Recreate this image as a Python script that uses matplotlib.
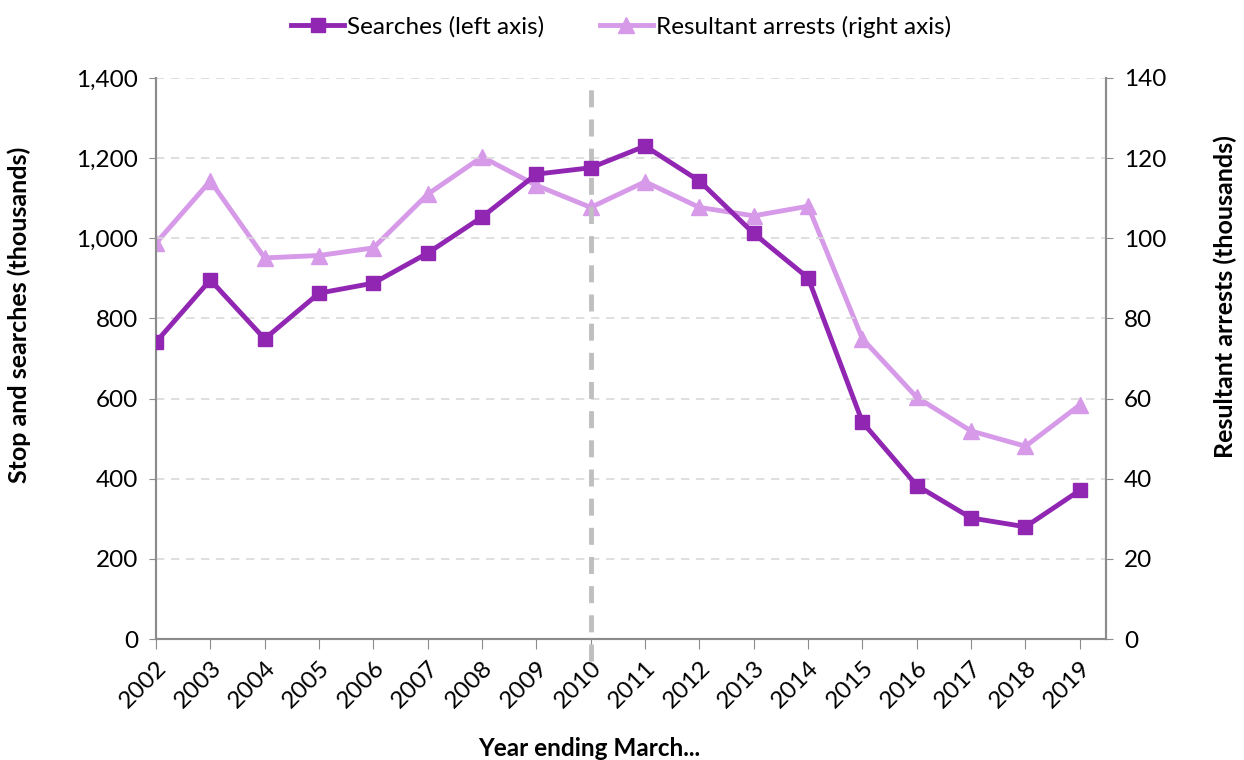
import matplotlib
matplotlib.use("Agg")
import matplotlib.pyplot as plt
from matplotlib.ticker import FuncFormatter

plt.rcParams["font.family"] = ["Lato", "DejaVu Sans"]

years = ["2002", "2003", "2004", "2005", "2006", "2007", "2008", "2009", "2010",
         "2011", "2012", "2013", "2014", "2015", "2016", "2017", "2018", "2019"]
searches = [741, 896, 749, 863, 888, 963, 1053, 1160, 1176,
            1230, 1143, 1012, 901, 541, 383, 302, 280, 371]
arrests = [98.8, 114.3, 95.1, 95.7, 97.6, 111.0, 120.3, 113.2, 107.7,
           114.1, 107.7, 105.6, 108.0, 74.9, 60.3, 51.9, 48.1, 58.4]

c_search = "#9126B3"
c_arrest = "#D69AE9"
axis_grey = "#8C8C8C"
fs = 17.5

fig = plt.figure(figsize=(12.44, 7.6), dpi=100)
ax = fig.add_axes([0.1254, 0.1592, 0.7636, 0.7382])
ax2 = ax.twinx()

x = list(range(len(years)))

ax.set_zorder(ax2.get_zorder() + 1)
ax.patch.set_visible(False)

ax2.plot(x, arrests, color=c_arrest, lw=3.5, marker="^", ms=11,
         label="Resultant arrests (right axis)", zorder=3)
ax.plot(x, searches, color=c_search, lw=3.5, marker="s", ms=10,
        label="Searches (left axis)", zorder=3)

# marker line at year ending March 2010
ax.axvline(8, ymin=-0.04, ymax=1.0, color="#BFBFBF", lw=3.5,
           ls=(0, (3.5, 2.5)), clip_on=False, zorder=1)

ax.set_xlim(0, 17.48)
ax.set_ylim(0, 1400)
ax2.set_ylim(0, 140)
ax.set_yticks(range(0, 1401, 200))
ax2.set_yticks(range(0, 141, 20))
ax.yaxis.set_major_formatter(FuncFormatter(lambda v, p: f"{int(v):,}"))

ax2.yaxis.grid(False)
ax.yaxis.grid(True, color="#D9D9D9", lw=1.2, ls=(0, (5, 4)))
ax.set_axisbelow(True)

ax.set_xticks(x)
ax.set_xticklabels(years, rotation=45, ha="right", rotation_mode="anchor", fontsize=fs)
ax.tick_params(axis="x", direction="out", length=7, color=axis_grey, pad=6)
ax.tick_params(axis="y", direction="out", length=5, color=axis_grey, labelsize=fs, pad=8)
ax2.tick_params(axis="y", direction="out", length=5, color=axis_grey, labelsize=fs, pad=8)

for a in (ax, ax2):
    a.spines["top"].set_visible(False)
    for s in ("left", "right", "bottom"):
        a.spines[s].set_color(axis_grey)
        a.spines[s].set_linewidth(1.5)

ax.set_ylabel("Stop and searches (thousands)", fontsize=18, fontweight="bold")
ax.yaxis.set_label_coords(-0.1316, 0.578)
ax2.set_ylabel("Resultant arrests (thousands)", fontsize=18, fontweight="bold",
               rotation=90)
ax2.yaxis.set_label_coords(1.113, 0.61)
ax.set_xlabel("Year ending March...", fontsize=fs, fontweight="bold")
ax.xaxis.set_label_coords(0.456, -0.1747)

h1, l1 = ax.get_legend_handles_labels()
h2, l2 = ax2.get_legend_handles_labels()
fig.legend(h1 + h2, l1 + l2, loc="upper center", bbox_to_anchor=(0.499, 1.008),
           ncol=2, frameon=False, fontsize=fs, handlelength=2.2,
           handletextpad=0.1, columnspacing=2.3)

fig.savefig("out.png", dpi=100)
